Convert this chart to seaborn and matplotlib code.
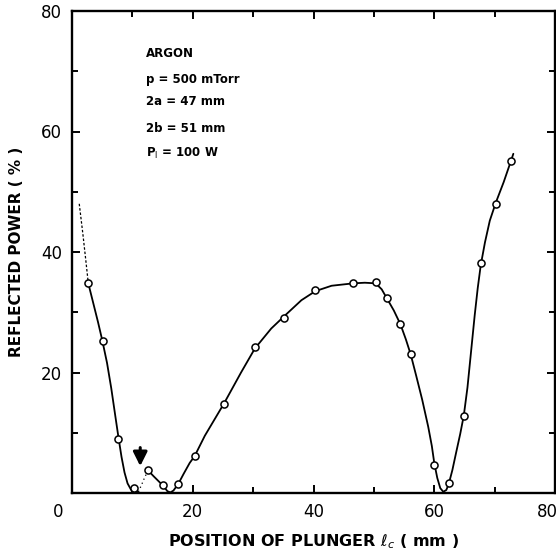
import numpy as np
import pandas as pd
import matplotlib
matplotlib.use("Agg")
import matplotlib.pyplot as plt
import matplotlib.transforms as mtransforms
import seaborn as sns

# measured points (open circles)
pos_mm = [2.7, 5.2, 7.7, 10.3, 12.6, 15.1, 17.6, 20.3, 25.2, 30.3, 35.1, 40.3,
          46.6, 50.3, 52.1, 54.4, 56.1, 60.0, 62.4, 64.9, 67.7, 70.2, 72.7]
refl_pct = [34.8, 25.2, 9.0, 0.8, 3.75, 1.4, 1.5, 6.1, 14.8, 24.3, 29.1, 33.7,
            34.9, 35.1, 32.3, 28.0, 23.0, 4.6, 1.65, 12.7, 38.1, 48.0, 55.1]

# hand-drawn curve
lead_x = [1.2, 1.8, 2.3, 2.7]
lead_y = [48.0, 43.0, 38.5, 34.8]
curve_a_x = [2.7, 3.5, 4.3, 5.0, 5.8, 6.5, 7.2, 7.7, 8.2, 8.7, 9.2, 9.8, 10.3, 11.0]
curve_a_y = [34.8, 31.6, 28.4, 25.4, 21.6, 17.4, 12.6, 9.2, 6.0, 3.4, 1.6, 0.5, 0.1, 0.2]
dot_x = [11.0, 11.5, 12.0, 12.6]
dot_y = [0.2, 1.3, 2.5, 3.75]
curve_b_x = [12.6, 13.5, 14.3, 15.1, 15.8, 16.3, 16.8, 17.6, 18.5, 19.5, 20.3, 22.0,
             25.2, 28.0, 30.3, 33.0, 35.1, 38.0, 40.3, 43.0, 46.6, 48.5, 50.3, 51.3,
             52.1, 53.3, 54.4, 55.3, 56.1, 57.0, 58.0, 59.0, 59.6, 60.0, 60.5, 61.0,
             61.5, 62.0, 62.4, 63.0, 63.6, 64.3, 64.9, 65.5, 66.1, 66.7, 67.2, 67.7,
             68.4, 69.2, 70.2, 71.5, 72.7, 73.1]
curve_b_y = [3.75, 2.8, 2.0, 1.2, 0.3, 0.1, 0.4, 1.5, 3.2, 5.0, 6.1, 9.5,
             14.9, 20.0, 24.0, 27.3, 29.3, 32.0, 33.5, 34.4, 34.8, 34.9, 34.8, 33.8,
             32.4, 30.3, 28.0, 25.5, 23.0, 19.5, 15.5, 11.0, 7.8, 5.0, 2.5, 0.8,
             0.2, 0.5, 1.5, 3.8, 6.6, 9.8, 12.9, 17.5, 23.5, 29.5, 34.0, 37.8,
             41.6, 45.2, 48.2, 51.6, 55.1, 56.3]

x_ticks = [0, 20, 40, 60, 80]
y_ticks = [20, 40, 60, 80]
info_lines = ["ARGON", "p = 500 mTorr", "2a = 47 mm", "2b = 51 mm",
              "P$_{\\mathrm{I}}$ = 100 W"]
info_y = [72.9, 68.6, 65.0, 60.5, 56.4]

sns.set_theme(style="ticks")
plt.rcParams["font.family"] = ["DejaVu Sans"]
plt.rcParams["mathtext.fontset"] = "dejavusans"
plt.rcParams["text.color"] = "black"
plt.rcParams["axes.labelcolor"] = "black"

fig = plt.figure(figsize=(5.56, 5.56), dpi=100)
ax = fig.add_axes([72/556, 1-493/556, (555-72)/556, (493-11)/556])

pts = pd.DataFrame({"x": pos_mm, "y": refl_pct})
ca = pd.DataFrame({"x": curve_a_x, "y": curve_a_y})
cb = pd.DataFrame({"x": curve_b_x, "y": curve_b_y})
ld = pd.DataFrame({"x": lead_x, "y": lead_y})
dt = pd.DataFrame({"x": dot_x, "y": dot_y})

lw = 1.3
sns.lineplot(data=ca, x="x", y="y", sort=False, color="black", lw=lw, ax=ax)
sns.lineplot(data=cb, x="x", y="y", sort=False, color="black", lw=lw, ax=ax)
sns.lineplot(data=ld, x="x", y="y", sort=False, color="black", lw=0.9,
             ls=(0, (2, 1.5)), ax=ax)
sns.lineplot(data=dt, x="x", y="y", sort=False, color="black", lw=0.9,
             ls=(0, (1, 2.5)), ax=ax)
sns.scatterplot(data=pts, x="x", y="y", marker="o", s=26, facecolor="white",
                edgecolor="black", linewidth=1.1, zorder=5, ax=ax)

# arrow
ax.annotate("", xy=(11.3, 4.0), xytext=(11.3, 8.0),
            arrowprops=dict(arrowstyle="-|>,head_width=0.35,head_length=0.7",
                            color="black", lw=2.2))

for t, yy in zip(info_lines, info_y):
    ax.text(12.2, yy, t, ha="left", va="center", fontsize=8.5,
            fontweight="bold", color="black")

ax.set_xlim(0, 80)
ax.set_ylim(0, 80)
ax.set_xticks(x_ticks)
ax.set_yticks(y_ticks)
ax.set_xticks(np.arange(10, 80, 10), minor=True)
ax.set_yticks(np.arange(10, 80, 10), minor=True)
ax.tick_params(which="both", direction="in", top=True, right=True,
               width=1.4, colors="black", labelcolor="black")
ax.tick_params(which="major", length=6, labelsize=12, pad=7)
ax.tick_params(which="minor", length=4)
for s in ax.spines.values():
    s.set_linewidth(1.7)
    s.set_color("black")

fig.canvas.draw()
xl = ax.get_xticklabels()
xl[0].set_transform(xl[0].get_transform() +
                    mtransforms.ScaledTranslation(-14/100, 0, fig.dpi_scale_trans))
xl[-1].set_transform(xl[-1].get_transform() +
                     mtransforms.ScaledTranslation(-8/100, 0, fig.dpi_scale_trans))

ax.set_xlabel("POSITION OF PLUNGER $\\ell_c$ ( mm )", fontsize=11.5,
              fontweight="bold", labelpad=8, color="black")
ax.set_ylabel("REFLECTED POWER ( % )", fontsize=11, fontweight="bold",
              labelpad=12, color="black")

fig.savefig("out.png", dpi=100)
